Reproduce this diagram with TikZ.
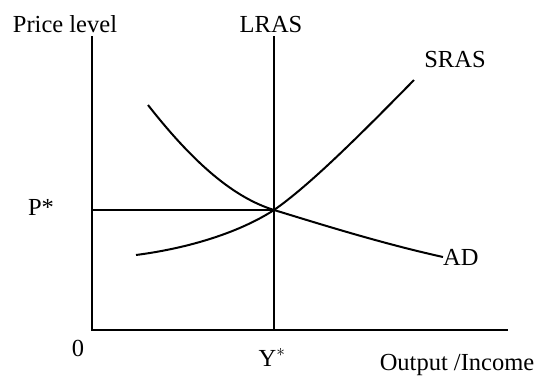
\documentclass[tikz,border=0pt]{standalone}
\usepackage{fontspec}
\setmainfont{Liberation Serif}
\usepackage{tikz}
\usetikzlibrary{positioning}

\begin{document}
\begin{tikzpicture}[
  x=1pt, y=-1pt,
  font=\fontsize{24.5}{28}\selectfont,
  axis/.style={line width=2pt},
  curve/.style={line width=2pt},
  label/.style={anchor=base, inner sep=0pt}
]
\useasboundingbox (0,0) rectangle (538,376);
% points of the diagram
\coordinate (origin) at (92,330);
\coordinate (ytop) at (92,36);
\coordinate (xend) at (508,330);
\coordinate (eq) at (274,210);
\coordinate (lrastop) at (274,36);
\coordinate (lrasbot) at (274,330);
\coordinate (pstar) at (92,210);
\coordinate (adstart) at (148,105);
\coordinate (adend) at (443,257);
\coordinate (srasstart) at (136,255);
\coordinate (srasend) at (414,80);
% labels
\node (price) [label] at (65,32) {Price level};
\node (lras) [label] at (271,32) {LRAS};
\node (sras) [label] at (455,67) {SRAS};
\node (plabel) [label] at (41,215) {P*};
\node (zero) [label] at (78,356) {0};
\node (ylabel) [label] at (272,366) {Y$^{*}$};
\node (output) [label] at (457,370) {Output /Income};
\node (ad) [label, anchor=base west] at (443,265) {AD};
% axes and guides
\draw [axis] (ytop) -- (origin) -- (xend);
\draw [axis] (lrastop) -- (lrasbot);
\draw [axis] (pstar) -- (eq);
% curves
\draw [curve] (adstart) .. controls (195,165) and (235,198) .. (eq)
  .. controls (320,224) and (380,243) .. (adend);
\draw [curve] (srasstart) .. controls (190,248) and (240,232) .. (eq)
  .. controls (310,185) and (360,135) .. (srasend);
\end{tikzpicture}
\end{document}
